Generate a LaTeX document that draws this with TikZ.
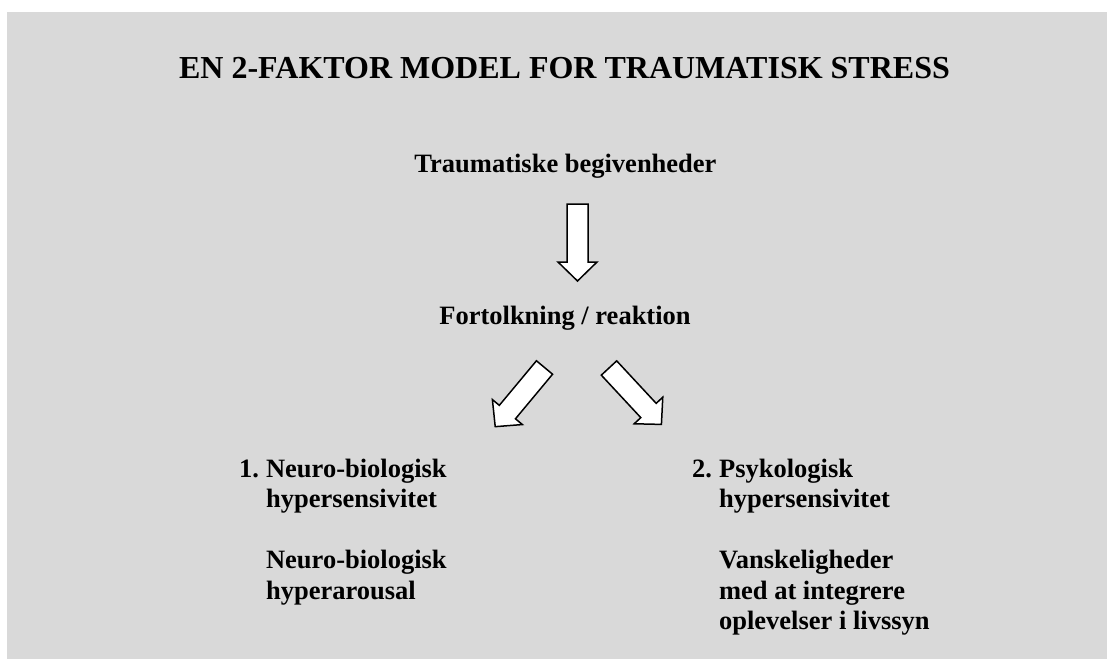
\documentclass[tikz,border=0pt]{standalone}
\usepackage{fontspec}
\setmainfont{Liberation Serif}
\definecolor{bggray}{RGB}{217,217,217}
\tikzset{
  ttl/.style={font=\fontsize{32}{36}\selectfont\bfseries, inner sep=0pt, anchor=base},
  txt/.style={font=\fontsize{26.5}{30.5}\selectfont\bfseries, inner sep=0pt, anchor=base},
  col/.style={font=\fontsize{26.5}{30.5}\selectfont\bfseries, inner sep=0pt, anchor=base west},
  arrowbox/.style={draw=black, fill=white, line width=1.5pt, line join=miter},
  barrow/.pic={\path[arrowbox] (0,-10.5) -- (58,-10.5) -- (58,-19.5) -- (77,0) -- (58,19.5) -- (58,10.5) -- (0,10.5) -- cycle;}
}
\begin{document}
\begin{tikzpicture}[x=1pt,y=-1pt]
\useasboundingbox (0,0) rectangle (1107,659);
\fill[bggray] (7,12) rectangle (1107,659);

\node[ttl] (title) at (564.5,78) {EN 2-FAKTOR MODEL FOR TRAUMATISK STRESS};
\node[txt] (events) at (565.5,172) {Traumatiske begivenheder};
\node[txt] (interp) at (565,324) {Fortolkning / reaktion};

\node[col] (left) at (239,477) {\begin{tabular}[t]{@{}l@{\hspace{7pt}}l@{}}
1. & Neuro-biologisk\\
 & hypersensivitet\\
 & \\
 & Neuro-biologisk\\
 & hyperarousal
\end{tabular}};
\node[col] (right) at (692,477) {\begin{tabular}[t]{@{}l@{\hspace{7pt}}l@{}}
2. & Psykologisk\\
 & hypersensivitet\\
 & \\
 & Vanskeligheder\\
 & med at integrere\\
 & oplevelser i livssyn
\end{tabular}};

\coordinate (a1) at (577.5,204);
\coordinate (a2) at (544.5,367.5);
\coordinate (a3) at (609,368);
\pic[rotate=-90] at (a1) {barrow};
\pic[rotate=230.2] at (a2) {barrow};
\pic[rotate=-47.1] at (a3) {barrow};
\end{tikzpicture}
\end{document}
